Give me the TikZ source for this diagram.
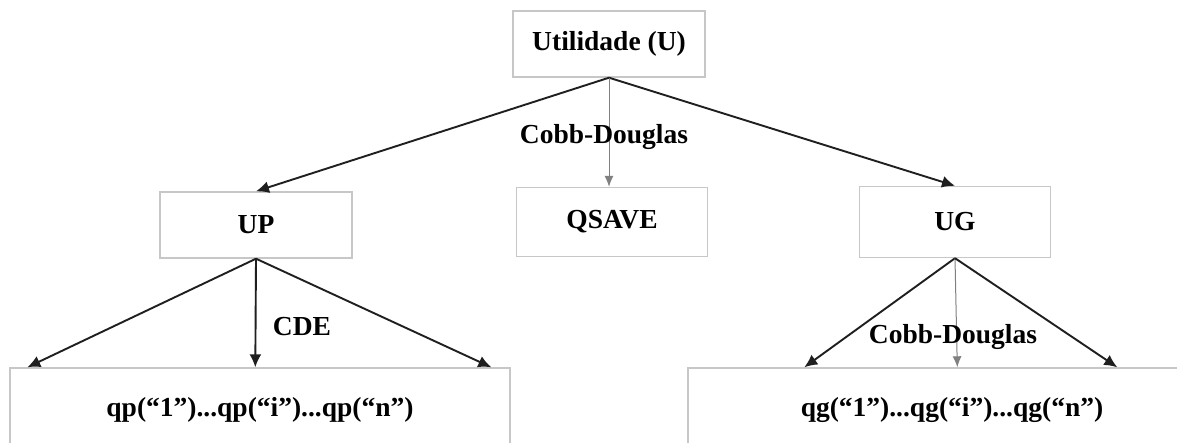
\documentclass[tikz,border=0pt]{standalone}
\usepackage{fontspec}
\setmainfont{Liberation Serif}
\usetikzlibrary{arrows.meta}
\begin{document}
\begin{tikzpicture}[x=1pt,y=-1pt,
  box/.style={draw=black!22, line width=1.4pt, fill=white, inner sep=0pt,
    font=\fontsize{27.5}{32}\selectfont\bfseries},
  lbl/.style={font=\fontsize{27.5}{32}\selectfont\bfseries, inner sep=1pt},
  main/.style={line width=1.9pt, draw=black!88, -{Latex[length=13pt,width=12pt]}},
  thin/.style={line width=1pt, draw=black!50, -{Latex[length=11pt,width=9pt]}}]
\useasboundingbox (0,0) rectangle (1177,443);
\clip (0,0) rectangle (1177,443);
\fill[white] (0,0) rectangle (1177,443);

% upper level
\node[box, minimum width=192pt, minimum height=66pt] (U) at (609,44) {Utilidade (U)};
\node[box, minimum width=192pt, minimum height=66pt] (UP) at (256,225) {UP};
\node[box, minimum width=191pt, minimum height=69pt] (QS) at (612,222) {QSAVE};
\node[box, minimum width=191pt, minimum height=71pt] (UG) at (955,222) {UG};

% lower level (both run off the page edge)
\node[box, minimum width=500pt, minimum height=84pt] (QP) at (260,410) {qp(“1”)...qp(“i”)...qp(“n”)};
\node[box, minimum width=528pt, minimum height=84pt] (QG) at (952,410) {qg(“1”)...qg(“i”)...qg(“n”)};

% arrow targets on the lower boxes
\coordinate (qpL) at ([xshift=18pt]QP.north west);
\coordinate (qpM) at ([xshift=246pt]QP.north west);
\coordinate (qpR) at ([xshift=482pt]QP.north west);
\coordinate (qgL) at ([xshift=117pt]QG.north west);
\coordinate (qgM) at ([xshift=270pt]QG.north west);
\coordinate (qgR) at ([xshift=430pt]QG.north west);

% connectors from the top box
\draw[main] (U.south) -- (UP.north);
\draw[main] (U.south) -- (UG.north);
\draw[thin] (U.south) -- (U.south |- QS.north);

% connectors from UP
\draw[main] (UP.south) -- (qpL);
\draw[main] (UP.south) -- (qpM);
\draw[main] (UP.south) -- (qpR);

% connectors from UG
\draw[main] (UG.south) -- (qgL);
\draw[thin] (UG.south) -- (qgM);
\draw[main] (UG.south) -- (qgR);

% labels
\node[lbl] (cd1) at (604,137) {Cobb-Douglas};
\node[lbl] (cde) at (302,327) {CDE};
\node[lbl] (cd2) at (953,337) {Cobb-Douglas};
\end{tikzpicture}
\end{document}
